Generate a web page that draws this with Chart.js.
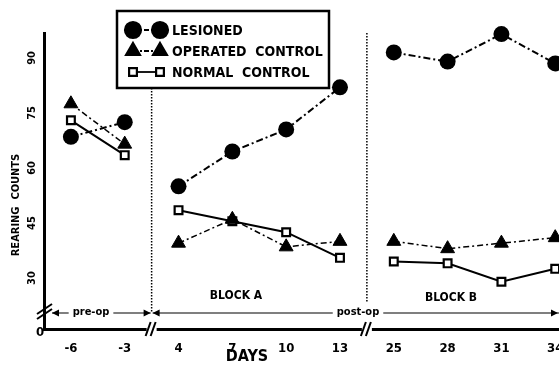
<!DOCTYPE html>
<html>
<head>
<meta charset="utf-8">
<script src="https://cdn.jsdelivr.net/npm/chart.js@4/dist/chart.umd.min.js"></script>
<style>
  body { margin: 0; background: #fff; }
  canvas { display: block; }
</style>
</head>
<body>
<canvas id="chartCanvas" width="559" height="367"></canvas>
<script>
// data (rearing counts per test day)
const days = ['-6', '-3', '4', '7', '10', '13', '25', '28', '31', '34'];
const lesioned = [68.5, 72.5, 55, 64.5, 70.5, 82, 91.5, 89, 96.5, 88.5];
const operatedControl = [77.5, 66.5, 39.5, 46, 38.5, 40, 40, 38, 39.5, 41];
const normalControl = [73, 63.5, 48.5, 45.5, 42.5, 35.5, 34.5, 34, 29, 32.5];
const yTicks = [30, 45, 60, 75, 90];
const blockBreaks = [1, 5]; // lines stop after these day indices

const Y_MIN = 16.1, Y_MAX = 96.8;
const FONT = '"DejaVu Sans Condensed", "DejaVu Sans", sans-serif';

// break the line between blocks with a null point
function toPoints(values) {
  const pts = [];
  values.forEach((v, i) => {
    pts.push({x: i, y: v});
    if (blockBreaks.includes(i)) pts.push({x: i + 0.5, y: null});
  });
  return pts;
}

function line(ctx, x1, y1, x2, y2) {
  ctx.beginPath();
  ctx.moveTo(x1, y1);
  ctx.lineTo(x2, y2);
  ctx.stroke();
}

function arrowHead(ctx, x, y, dir) {
  ctx.beginPath();
  ctx.moveTo(x, y);
  ctx.lineTo(x - dir * 7, y - 3.5);
  ctx.lineTo(x - dir * 7, y + 3.5);
  ctx.closePath();
  ctx.fill();
}

function labelOnLine(ctx, text, x, y) {
  const w = ctx.measureText(text).width;
  ctx.fillStyle = '#fff';
  ctx.fillRect(x - w / 2 - 4, y - 7, w + 8, 14);
  ctx.fillStyle = '#000';
  ctx.fillText(text, x, y);
}

const annotations = {
  id: 'annotations',
  beforeDatasetsDraw(chart) {
    const ctx = chart.ctx;
    const xs = chart.scales.x;
    const sepA = xs.getPixelForValue(1.5);
    const sepB = xs.getPixelForValue(5.5);
    const rowY = 313;
    ctx.save();
    ctx.strokeStyle = '#000';
    ctx.fillStyle = '#000';

    // dotted block separators
    ctx.lineWidth = 1.5;
    ctx.setLineDash([1.5, 1.5]);
    line(ctx, sepA, 88, sepA, rowY);
    line(ctx, sepB, 33, sepB, 303);
    ctx.setLineDash([]);

    // pre-op / post-op arrows
    ctx.lineWidth = 1.2;
    line(ctx, 52, rowY, sepA - 1, rowY);
    line(ctx, sepA + 1, rowY, 559, rowY);
    arrowHead(ctx, 52, rowY, -1);
    arrowHead(ctx, sepA - 1, rowY, 1);
    arrowHead(ctx, sepA + 1, rowY, -1);
    arrowHead(ctx, 558, rowY, 1);
    ctx.font = 'bold 11px ' + FONT;
    ctx.textAlign = 'center';
    ctx.textBaseline = 'middle';
    labelOnLine(ctx, 'pre-op', 91, rowY - 1);
    labelOnLine(ctx, 'post-op', 358, rowY - 1);

    ctx.font = 'bold 12px ' + FONT;
    ctx.fillText('BLOCK A', 236, 296);
    ctx.fillText('BLOCK B', 451, 298);

    // axis break marks
    ctx.lineWidth = 2;
    line(ctx, 37, 314, 52, 304);
    line(ctx, 37, 319, 52, 309);
    ctx.fillStyle = '#fff';
    ctx.fillRect(sepA - 5, 325, 10, 8);
    ctx.fillRect(sepB - 5, 325, 10, 8);
    ctx.fillStyle = '#000';
    line(ctx, sepA - 6, 336, sepA - 1, 322);
    line(ctx, sepA - 1, 336, sepA + 4, 322);
    line(ctx, sepB - 6, 336, sepB - 1, 322);
    line(ctx, sepB - 1, 336, sepB + 4, 322);

    // legend box
    ctx.fillStyle = '#fff';
    ctx.fillRect(117, 11, 212, 77);
    ctx.lineWidth = 2.5;
    ctx.strokeRect(117, 11, 212, 77);
    const rows = [
      {label: 'LESIONED', style: 'circle', radius: 8, fill: '#000', dash: [5, 2, 2, 2], y: 30},
      {label: 'OPERATED  CONTROL', style: 'triangle', radius: 8, fill: '#000', dash: [5, 2, 2, 2], y: 51},
      {label: 'NORMAL  CONTROL', style: 'rect', radius: 5.5, fill: '#fff', dash: [], y: 72}
    ];
    ctx.font = 'bold 14px ' + FONT;
    ctx.textAlign = 'left';
    rows.forEach(r => {
      ctx.strokeStyle = '#000';
      ctx.lineWidth = 1.8;
      ctx.setLineDash(r.dash);
      line(ctx, 133, r.y, 160, r.y);
      ctx.setLineDash([]);
      ctx.fillStyle = r.fill;
      ctx.lineWidth = 2.2;
      [133, 160].forEach(px => {
        Chart.helpers.drawPoint(ctx, {pointStyle: r.style, radius: r.radius, borderWidth: 2.2, rotation: 0}, px, r.y);
      });
      ctx.fillStyle = '#000';
      ctx.fillText(r.label, 172, r.y + 1);
    });
    ctx.restore();
  },
  afterDraw(chart) {
    const ctx = chart.ctx;
    const ys = chart.scales.y;
    ctx.save();
    ctx.fillStyle = '#000';
    ctx.textAlign = 'center';
    ctx.textBaseline = 'middle';
    // rotated y tick labels, from the scale ticks
    ctx.font = 'bold 11px ' + FONT;
    ys.ticks.forEach(t => {
      const py = ys.getPixelForValue(t.value);
      if (t.value === Y_MIN) {
        ctx.font = 'bold 13px ' + FONT;
        ctx.fillText('0', 40, 333);
        ctx.font = 'bold 11px ' + FONT;
        return;
      }
      ctx.save();
      ctx.translate(32, py);
      ctx.rotate(-Math.PI / 2);
      ctx.fillText(String(t.value), 0, 0);
      ctx.restore();
    });
    // axis titles
    ctx.font = 'bold 11px ' + FONT;
    ctx.save();
    ctx.translate(16, 205);
    ctx.rotate(-Math.PI / 2);
    ctx.fillText('REARING  COUNTS', 0, 0);
    ctx.restore();
    ctx.font = 'bold 16px ' + FONT;
    ctx.fillText('DAYS', 247, 357);
    ctx.restore();
  }
};

const ctx = document.getElementById('chartCanvas').getContext('2d');
new Chart(ctx, {
  type: 'line',
  data: {
    datasets: [
      {
        label: 'LESIONED',
        data: toPoints(lesioned),
        borderColor: '#000',
        borderWidth: 2,
        borderDash: [7, 3, 2, 3],
        pointStyle: 'circle',
        pointRadius: 8,
        pointBackgroundColor: '#000',
        pointBorderColor: '#000',
        pointBorderWidth: 0,
        clip: false
      },
      {
        label: 'OPERATED CONTROL',
        data: toPoints(operatedControl),
        borderColor: '#000',
        borderWidth: 1.5,
        borderDash: [6, 3, 2, 3],
        pointStyle: 'triangle',
        pointRadius: 8,
        pointBackgroundColor: '#000',
        pointBorderColor: '#000',
        pointBorderWidth: 1,
        clip: false
      },
      {
        label: 'NORMAL CONTROL',
        data: toPoints(normalControl),
        borderColor: '#000',
        borderWidth: 2,
        pointStyle: 'rect',
        pointRadius: 5.5,
        pointBackgroundColor: '#fff',
        pointBorderColor: '#000',
        pointBorderWidth: 2.2,
        clip: false
      }
    ]
  },
  options: {
    responsive: false,
    animation: false,
    spanGaps: false,
    layout: {autoPadding: false, padding: {top: 33, left: 0, right: 0, bottom: 0}},
    plugins: {legend: {display: false}, tooltip: {enabled: false}},
    scales: {
      x: {
        type: 'linear',
        min: -0.5,
        max: 9.07,
        grid: {display: false},
        border: {display: true, color: '#000', width: 3},
        afterBuildTicks: (scale) => { scale.ticks = days.map((d, i) => ({value: i})); },
        afterFit: (scale) => { scale.height = 38; scale.paddingLeft = 0; scale.paddingRight = 0; },
        ticks: {
          color: '#000',
          padding: 4,
          maxRotation: 0,
          font: {family: FONT, size: 13, weight: 'bold'},
          callback: (v) => days[v]
        }
      },
      y: {
        min: Y_MIN,
        max: Y_MAX,
        grid: {display: false},
        border: {display: true, color: '#000', width: 3},
        afterBuildTicks: (scale) => { scale.ticks = [Y_MIN].concat(yTicks).map(v => ({value: v})); },
        afterFit: (scale) => { scale.width = 44; scale.paddingTop = 0; scale.paddingBottom = 0; },
        ticks: {display: false}
      }
    }
  },
  plugins: [annotations]
});
</script>
</body>
</html>
